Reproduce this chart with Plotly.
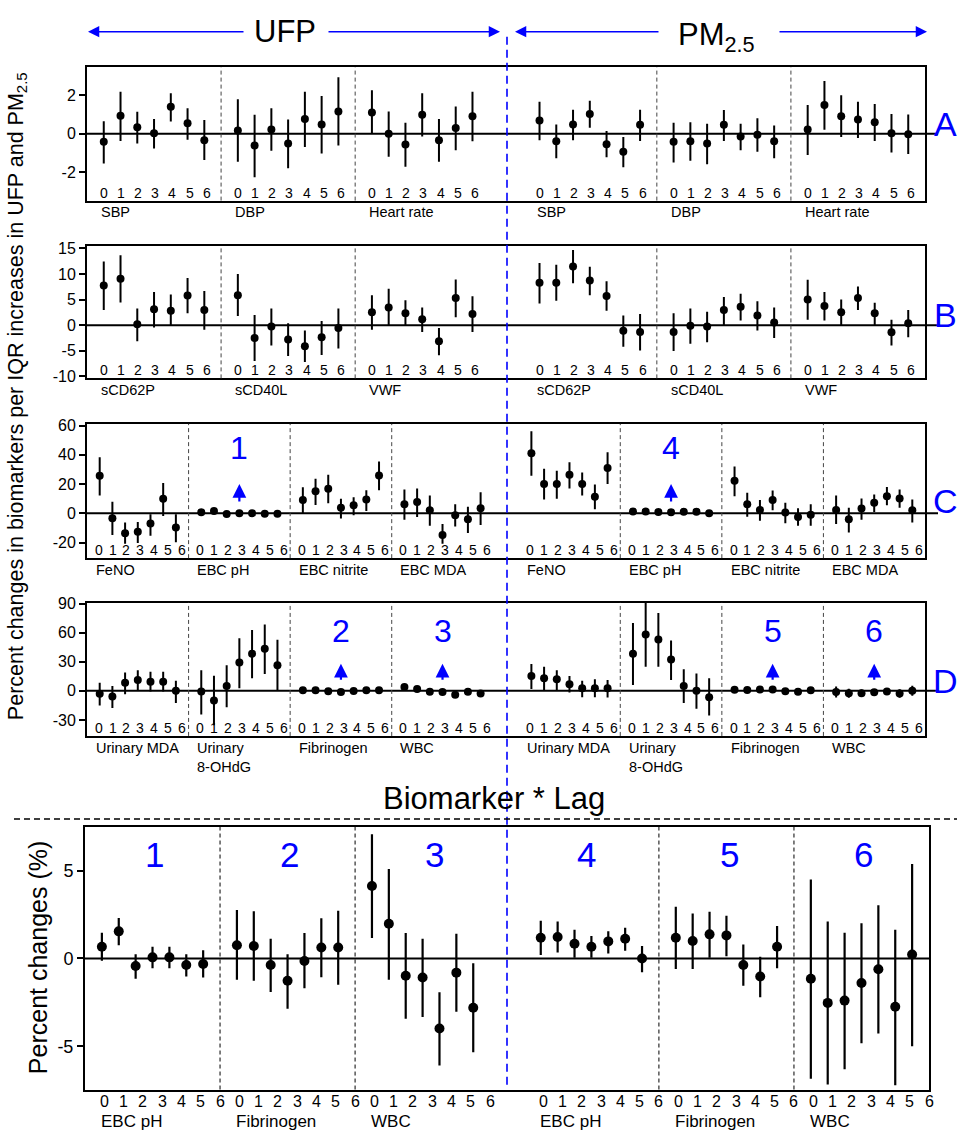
import plotly.graph_objects as go

W, H = 957, 1139
def px(x): return x / W
def py(y): return 1 - y / H

lags = [0, 1, 2, 3, 4, 5, 6]
BLUE = "#0000ff"
FONT = "Liberation Sans, Arial, sans-serif"

# ---------------- Panel A ----------------
A_groups = ["SBP", "DBP", "Heart rate"]
A_ufp_est = [[-0.42, 0.93, 0.34, 0.03, 1.39, 0.54, -0.34],
             [0.17, -0.61, 0.22, -0.51, 0.76, 0.48, 1.15],
             [1.10, 0.00, -0.56, 0.98, -0.34, 0.29, 0.90]]
A_ufp_lo = [[-1.53, -0.37, -0.51, -0.76, 0.63, -0.31, -1.36],
            [-1.44, -2.24, -0.88, -1.78, -0.68, -1.02, -0.61],
            [0.00, -1.19, -1.70, -0.14, -1.44, -0.85, -0.39]]
A_ufp_hi = [[0.65, 2.17, 1.14, 0.76, 2.09, 1.32, 0.71],
            [1.78, 0.98, 1.31, 0.73, 2.17, 1.95, 2.92],
            [2.24, 1.15, 0.56, 2.09, 0.76, 1.41, 2.17]]
A_pm_est = [[0.68, -0.39, 0.48, 1.02, -0.54, -0.93, 0.46],
            [-0.42, -0.39, -0.51, 0.46, -0.14, -0.05, -0.39],
            [0.22, 1.48, 0.90, 0.73, 0.59, 0.03, -0.03]]
A_pm_lo = [[-0.34, -1.27, -0.34, 0.31, -1.22, -1.73, -0.37],
           [-1.48, -1.39, -1.58, -0.37, -0.85, -0.93, -1.27],
           [-1.10, 0.20, -0.17, -0.22, -0.37, -0.97, -1.05]]
A_pm_hi = [[1.65, 0.48, 1.24, 1.70, 0.14, -0.17, 1.24],
           [0.56, 0.59, 0.51, 1.22, 0.51, 0.80, 0.42],
           [1.48, 2.72, 1.99, 1.65, 1.53, 1.02, 0.99]]

# ---------------- Panel B ----------------
B_groups = ["sCD62P", "sCD40L", "VWF"]
B_ufp_est = [[7.76, 9.04, 0.19, 3.08, 2.82, 5.77, 2.95],
             [5.83, -2.50, -0.26, -2.82, -4.10, -2.37, -0.58],
             [2.50, 3.46, 2.31, 1.15, -3.14, 5.32, 2.18]]
B_ufp_lo = [[2.95, 4.42, -3.14, -0.45, 0.00, 2.31, -0.90],
            [1.79, -7.00, -3.97, -6.03, -7.18, -5.83, -4.55],
            [-0.90, 0.00, 0.00, -1.35, -5.90, 1.54, -1.35]]
B_ufp_hi = [[12.44, 13.65, 3.27, 6.47, 5.96, 9.23, 6.67],
            [10.00, 1.99, 3.27, 0.38, -1.03, 0.83, 3.27],
            [5.83, 7.12, 4.87, 3.46, -0.58, 8.91, 5.64]]
B_pm_est = [[8.27, 8.27, 11.47, 8.72, 5.71, -1.09, -1.35],
            [-1.35, -0.13, -0.26, 2.95, 3.59, 1.86, 0.51],
            [5.00, 3.72, 2.50, 5.32, 2.31, -1.41, 0.38]]
B_pm_lo = [[4.23, 4.74, 8.20, 5.83, 2.82, -4.23, -4.94],
           [-5.06, -3.65, -3.33, 0.00, 0.90, -1.03, -2.50],
           [1.03, 0.90, 0.00, 2.95, 0.00, -3.97, -2.37]]
B_pm_hi = [[12.12, 11.79, 14.68, 11.41, 8.59, 1.86, 2.18],
           [2.31, 3.27, 2.63, 5.51, 6.15, 4.68, 3.46],
           [8.85, 6.47, 5.00, 7.56, 4.36, 1.03, 2.95]]

# ---------------- Panel E (Biomarker * Lag) ----------------
E_groups = ["EBC pH", "Fibrinogen", "WBC"]
E_ufp_est = [[0.66, 1.54, -0.43, 0.06, 0.06, -0.37, -0.32],
             [0.75, 0.71, -0.37, -1.27, -0.15, 0.62, 0.62],
             [4.12, 1.97, -0.99, -1.09, -3.99, -0.81, -2.81]]
E_ufp_lo = [[-0.13, 0.75, -1.16, -0.56, -0.56, -1.03, -1.09],
            [-1.22, -1.27, -1.91, -2.87, -1.69, -1.07, -1.50],
            [1.16, -1.22, -3.43, -3.33, -6.09, -3.03, -5.34]]
E_ufp_hi = [[1.46, 2.30, 0.24, 0.66, 0.66, 0.24, 0.47],
            [2.75, 2.68, 1.12, 0.24, 1.44, 2.28, 2.72],
            [7.06, 5.09, 1.44, 1.12, -1.93, 1.40, -0.28]]
E_pm_est = [[1.18, 1.22, 0.84, 0.66, 0.97, 1.12, 0.00],
            [1.18, 0.99, 1.37, 1.31, -0.37, -1.03, 0.66],
            [-1.16, -2.53, -2.40, -1.40, -0.62, -2.75, 0.22]]
E_pm_lo = [[0.19, 0.34, 0.04, 0.04, 0.28, 0.43, -0.79],
           [-0.60, -0.60, 0.04, 0.13, -1.55, -2.21, -0.56],
           [-6.84, -7.17, -6.31, -4.83, -4.27, -7.21, -5.00]]
E_pm_hi = [[2.15, 2.10, 1.63, 1.27, 1.54, 1.75, 0.71],
           [2.94, 2.56, 2.66, 2.43, 0.79, 0.09, 1.84],
           [4.49, 2.10, 1.46, 2.00, 3.03, 1.63, 5.37]]

# ---------------- Panel C ----------------
C_groups = ["FeNO", "EBC pH", "EBC nitrite", "EBC MDA"]
C_ufp_est = [[25.7, -3.4, -13.7, -12.6, -7.0, 9.9, -9.7],
             E_ufp_est[0],
             [9.0, 15.1, 16.7, 3.8, 5.4, 9.5, 25.9],
             [6.1, 7.7, 2.0, -14.9, -1.4, -4.1, 3.4]]
C_ufp_lo = [[12.2, -14.9, -20.9, -20.3, -15.3, -1.8, -19.8],
            E_ufp_lo[0],
            [0.0, 5.6, 6.8, -3.6, -1.4, 1.6, 15.8],
            [-4.5, -2.5, -8.6, -20.9, -9.0, -13.5, -8.1]]
C_ufp_hi = [[38.3, 7.9, -6.3, -5.9, -0.7, 20.7, -0.7],
            E_ufp_hi[0],
            [17.8, 23.6, 26.4, 9.9, 11.0, 15.8, 35.4],
            [16.2, 16.9, 12.2, -7.4, 6.1, 4.5, 14.4]]
C_pm_est = [[41.0, 20.0, 20.0, 26.4, 20.0, 11.3, 30.9],
            E_pm_est[0],
            [22.3, 6.1, 2.3, 9.0, 0.5, -2.5, -1.1],
            [2.3, -4.1, 3.2, 7.2, 11.7, 10.1, 2.0]]
C_pm_lo = [[25.7, 9.5, 9.9, 16.9, 12.2, 2.7, 20.0],
           E_pm_lo[0],
           [11.7, -2.3, -5.2, 2.0, -6.8, -8.6, -8.6],
           [-7.4, -13.1, -4.5, 0.9, 5.4, 3.8, -6.3]]
C_pm_hi = [[56.1, 30.4, 29.1, 34.9, 27.9, 19.6, 41.7],
           E_pm_hi[0],
           [32.0, 14.0, 9.0, 15.5, 7.2, 3.4, 6.1],
           [12.2, 3.8, 10.1, 12.8, 18.0, 16.2, 9.5]]

# ---------------- Panel D ----------------
D_groups = ["Urinary MDA", "Urinary<br>8-OHdG", "Fibrinogen", "WBC"]
D_ufp_est = [[-3.1, -5.8, 8.5, 11.2, 9.5, 9.5, 0.0],
             [-0.7, -9.9, 5.1, 29.3, 38.4, 43.5, 26.5],
             E_ufp_est[1], E_ufp_est[2]]
D_ufp_lo = [[-15.0, -17.7, -3.4, 0.0, -0.7, -0.7, -12.6],
            [-24.5, -35.4, -17.0, 2.7, 12.9, 17.3, 0.0],
            E_ufp_lo[1], E_ufp_lo[2]]
D_ufp_hi = [[8.5, 5.1, 19.0, 21.4, 19.7, 19.7, 10.5],
            [21.4, 15.6, 26.5, 54.4, 62.9, 68.4, 52.7],
            E_ufp_hi[1], E_ufp_hi[2]]
D_pm_est = [[15.3, 12.9, 11.9, 6.8, 2.7, 2.7, 2.7],
            [38.4, 58.2, 53.1, 32.3, 5.1, 0.0, -6.5],
            E_pm_est[1], E_pm_est[2]]
D_pm_lo = [[2.0, 0.0, 0.0, -1.7, -6.5, -6.5, -6.8],
           [6.1, 24.8, 24.8, 11.2, -12.6, -18.4, -25.5],
           E_pm_lo[1], E_pm_lo[2]]
D_pm_hi = [[27.6, 24.8, 21.4, 15.3, 10.5, 11.9, 11.2],
           [70.1, 92.0, 80.3, 52.0, 22.4, 18.0, 12.9],
           E_pm_hi[1], E_pm_hi[2]]

A_ticks = [-2, 0, 2]
B_ticks = [-10, -5, 0, 5, 10, 15]
C_ticks = [-20, 0, 20, 40, 60]
D_ticks = [-30, 0, 30, 60, 90]
E_ticks = [-5, 0, 5]

# ---------------- layout geometry ----------------
panels = [
    dict(i=1, groups=A_groups, data=(A_ufp_est, A_ufp_lo, A_ufp_hi, A_pm_est, A_pm_lo, A_pm_hi),
         xd=(87, 925), yd=(61, 196), yr=[-3.45, 3.43], ticks=A_ticks, a=1.0, b=1.025, ms=8, letter="A", ly=118),
    dict(i=2, groups=B_groups, data=(B_ufp_est, B_ufp_lo, B_ufp_hi, B_pm_est, B_pm_lo, B_pm_hi),
         xd=(87, 925), yd=(242, 376), yr=[-10.4, 15.45], ticks=B_ticks, a=1.0, b=1.025, ms=8, letter="B", ly=312),
    dict(i=3, groups=C_groups, data=(C_ufp_est, C_ufp_lo, C_ufp_hi, C_pm_est, C_pm_lo, C_pm_hi),
         xd=(87, 925), yd=(422, 558), yr=[-30.7, 61.2], ticks=C_ticks, a=0.92, b=1.095, ms=8, letter="C", ly=500),
    dict(i=4, groups=D_groups, data=(D_ufp_est, D_ufp_lo, D_ufp_hi, D_pm_est, D_pm_lo, D_pm_hi),
         xd=(87, 925), yd=(603, 738), yr=[-46.5, 91.1], ticks=D_ticks, a=0.92, b=1.095, ms=8, letter="D", ly=682),
    dict(i=5, groups=E_groups, data=(E_ufp_est, E_ufp_lo, E_ufp_hi, E_pm_est, E_pm_lo, E_pm_hi),
         xd=(85, 929), yd=(830, 1096), yr=[-7.46, 7.49], ticks=E_ticks, a=8 / 7, b=8 / 7, ms=10, letter=None, ly=None),
]

fig = go.Figure()
shapes = []
annotations = []
layout_axes = {}


def note(**kw):
    kw.setdefault("xanchor", "center")
    kw.setdefault("yanchor", "middle")
    kw.setdefault("showarrow", False)
    annotations.append(kw)


for p in panels:
    i = p["i"]
    xid = "x" if i == 1 else f"x{i}"
    yid = "y" if i == 1 else f"y{i}"
    n = len(p["groups"])
    span = 16 * n + 2
    starts = [8 * g for g in range(n)] + [8 * n + 2 + 8 * g for g in range(n)]
    ufp_e, ufp_l, ufp_h, pm_e, pm_l, pm_h = p["data"]
    ests = list(ufp_e) + list(pm_e)
    los = list(ufp_l) + list(pm_l)
    his = list(ufp_h) + list(pm_h)
    for s, e, l, h in zip(starts, ests, los, his):
        xs = [s + 1 + k for k in lags]
        fig.add_trace(go.Scatter(
            x=xs, y=e, mode="markers", xaxis=xid, yaxis=yid, showlegend=False,
            marker=dict(color="black", size=p["ms"]),
            error_y=dict(type="data", symmetric=False,
                         array=[hh - ee for hh, ee in zip(h, e)],
                         arrayminus=[ee - ll for ee, ll in zip(e, l)],
                         color="black", thickness=2.2 if i == 5 else 2, width=0),
        ))
    ax_key = "" if i == 1 else str(i)
    layout_axes[f"xaxis{ax_key}"] = dict(
        domain=[px(p["xd"][0]), px(p["xd"][1])], range=[0, span], anchor=yid,
        showline=True, mirror=True, linecolor="black", linewidth=2,
        showticklabels=False, ticks="", showgrid=False, zeroline=False)
    layout_axes[f"yaxis{ax_key}"] = dict(
        domain=[py(p["yd"][1]), py(p["yd"][0])], range=p["yr"], anchor=xid,
        showline=True, mirror=True, linecolor="black", linewidth=2,
        ticks="outside", ticklen=6, tickwidth=1.5, tickcolor="black",
        tickvals=p["ticks"], ticktext=[str(t) for t in p["ticks"]],
        tickfont=dict(size=18 if i == 5 else 16, color="black", family=FONT),
        showgrid=False, zeroline=False)

    # zero line
    if i == 5:
        shapes.append(dict(type="line", xref=xid, yref=yid, x0=0, x1=span, y0=0, y1=0,
                           line=dict(color="black", width=2), layer="below"))
    else:
        shapes.append(dict(type="line", xref="paper", yref=yid, x0=px(87), x1=px(938), y0=0, y1=0,
                           line=dict(color="black", width=2), layer="below"))
    # separators
    for s in starts:
        if s == 0 or s == 8 * n + 2:
            continue
        shapes.append(dict(type="line", xref=xid, yref=f"{yid} domain", x0=s, x1=s, y0=0, y1=1,
                           line=dict(color="black" if i == 5 else "#444444", width=1, dash="4px,3px")))

    # lag labels and group labels
    ytop, ybot = p["yd"]
    if i == 5:
        lag_y = py(1108)
        grp_y = py(1128)
        lag_size, grp_size = 16, 17
    else:
        lag_y = py(ybot - 8)
        grp_y = py(ybot + 12)
        lag_size, grp_size = 14, 14.5
    for gi, s in enumerate(starts):
        for k in lags:
            note(x=s + p["a"] + k * p["b"], y=lag_y, xref=xid, yref="paper", text=str(k),
                 font=dict(size=lag_size, color="black", family=FONT))
        name = p["groups"][gi % n]
        two = "<br>" in name
        note(x=s + p["a"], y=grp_y, xref=xid, yref="paper", text=name,
             xanchor="left", yanchor="top" if two else "middle",
             xshift=-5, yshift=9.5 if two else 0, align="left",
             font=dict(size=grp_size, color="black", family=FONT))
    if p["letter"]:
        note(x=px(945), y=py(p["ly"]), xref="paper", yref="paper", text=p["letter"],
             font=dict(size=34, color=BLUE, family=FONT))

# blue numbers with arrows in panels C and D
marks = [("x3", "y3", 12, "1"), ("x3", "y3", 46, "4"),
         ("x4", "y4", 20, "2"), ("x4", "y4", 28, "3"),
         ("x4", "y4", 54, "5"), ("x4", "y4", 62, "6")]
for xid, yid, xv, txt in marks:
    if yid == "y3":
        ny, head, tail = 44.5, 20, 7
    else:
        ny, head, tail = 62, 28, 10
    note(x=xv, y=ny, xref=xid, yref=yid, text=txt, font=dict(size=32, color=BLUE, family=FONT))
    annotations.append(dict(x=xv, y=head, ax=xv, ay=tail, xref=xid, yref=yid, axref=xid, ayref=yid,
                            text="", showarrow=True, arrowhead=2, arrowsize=1.25, arrowwidth=2.2,
                            arrowcolor=BLUE))

# blue numbers in panel E
for xv, txt in zip([4.1, 12.1, 20.7, 29.7, 38.2, 46.1], ["1", "2", "3", "4", "5", "6"]):
    note(x=xv, y=5.9, xref="x5", yref="y5", text=txt, font=dict(size=35, color=BLUE, family=FONT))

# header
note(x=px(285), y=py(25), xref="paper", yref="paper", text="UFP",
     font=dict(size=31, color="black", family=FONT))
note(x=px(716), y=py(30), xref="paper", yref="paper", text="PM<sub>2.5</sub>",
     font=dict(size=31, color="black", family=FONT))
for head_x, tail_x in [(88, 245), (500, 327), (515, 660), (927, 778)]:
    annotations.append(dict(x=px(head_x), y=py(25), xref="paper", yref="paper", text="",
                            showarrow=True, ax=tail_x - head_x, ay=0, arrowhead=2, arrowsize=1.5,
                            arrowwidth=1.5, arrowcolor=BLUE))

# axis titles
note(x=px(17), y=py(394), xref="paper", yref="paper",
     text="Percent changes in biomarkers per IQR increases in UFP and PM<sub>2.5</sub>",
     textangle=-90, font=dict(size=21.5, color="black", family=FONT))
note(x=px(38), y=py(963), xref="paper", yref="paper", text="Percent changes (%)",
     textangle=-90, font=dict(size=25, color="black", family=FONT))
note(x=px(494), y=py(801), xref="paper", yref="paper", text="Biomarker * Lag",
     font=dict(size=31, color="black", family=FONT))

# blue dashed divider and black dashed separator
shapes.append(dict(type="line", xref="paper", yref="paper", x0=px(507), x1=px(507),
                   y0=py(30), y1=py(1096), line=dict(color=BLUE, width=1.6, dash="8px,5px")))
shapes.append(dict(type="line", xref="paper", yref="paper", x0=px(14), x1=1,
                   y0=py(822), y1=py(822), line=dict(color="black", width=1.5, dash="6px,4px")))

fig.update_layout(
    width=W, height=H, margin=dict(l=0, r=0, t=0, b=0),
    paper_bgcolor="white", plot_bgcolor="white",
    font=dict(family=FONT, color="black"),
    shapes=shapes, annotations=annotations, showlegend=False,
    **layout_axes,
)
fig.write_html("out.html", config={"displayModeBar": False},
               post_script="document.body.style.margin='0px';")
